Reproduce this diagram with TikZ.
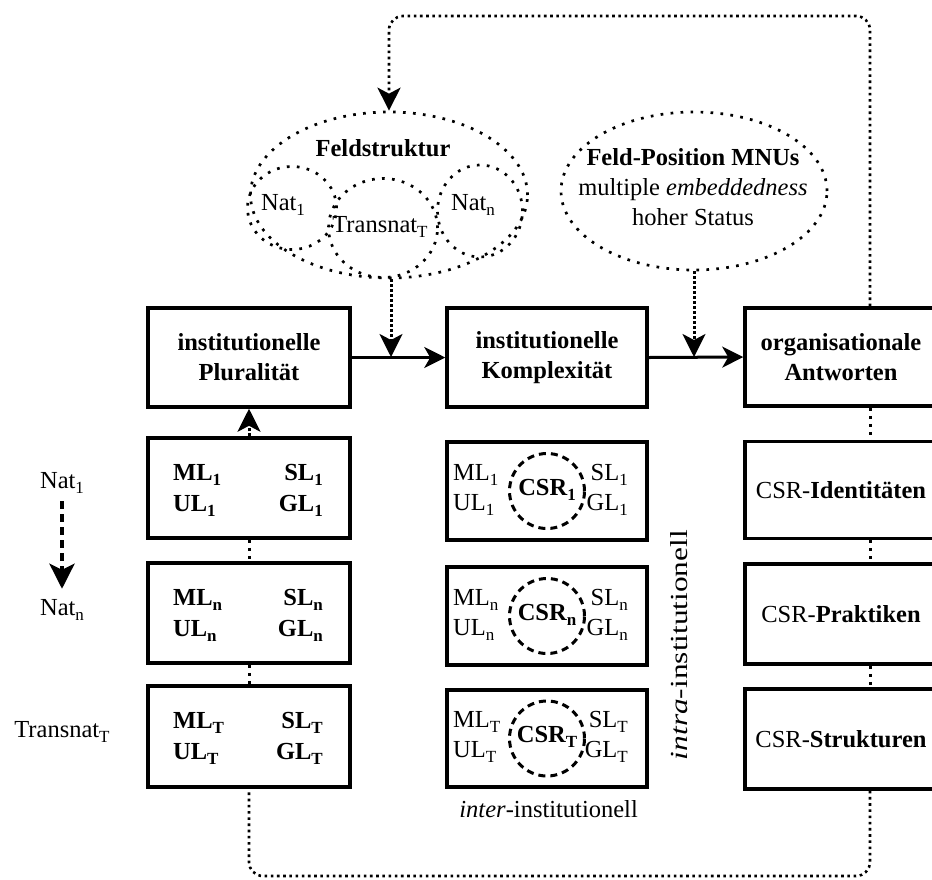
\documentclass[tikz,border=0pt]{standalone}
\usepackage{fontspec}
\setmainfont{Liberation Serif}
\usetikzlibrary{arrows.meta,shapes.geometric,calc}
\newcommand{\mysize}{\fontsize{24.5}{30}\selectfont}
\newcommand{\lsub}[1]{\raisebox{-5pt}{\fontsize{17}{17}\selectfont #1}}
\begin{document}
\begin{tikzpicture}[x=1pt,y=-1pt,
  every node/.style={inner sep=0pt,font=\mysize},
  box/.style={draw,line width=3.5pt,align=center,font=\mysize\bfseries},
  dotell/.style={draw,ellipse,line width=2.7pt,dash pattern=on 2.7pt off 7.3pt},
  csrc/.style={draw,circle,minimum size=75pt,line width=3pt,dash pattern=on 7pt off 5pt},
  mainarrow/.style={line width=3pt,-{Stealth[length=21pt,width=21pt,inset=6pt]}},
  dotarrow/.style={line width=3pt,dash pattern=on 3pt off 2pt,-{Stealth[length=23pt,width=23pt,inset=6pt]}},
  vdots/.style={line width=3pt,dash pattern=on 3pt off 5pt},
  loopline/.style={line width=2.6pt,dash pattern=on 2.6pt off 3.6pt,rounded corners=14pt},
  dasharrow/.style={line width=4pt,dash pattern=on 8pt off 5pt,-{Stealth[length=25pt,width=25pt,inset=6pt]}}
]
\useasboundingbox (0,0) rectangle (932,879);
\fill[white] (0,0) rectangle (932,879);
\clip (0,0) rectangle (932,879);

% ---- column 1
\node[box,minimum width=202pt,minimum height=99pt] (P) at (249,357.5) {institutionelle\\Pluralität};
\node[box,minimum width=202pt,minimum height=100pt] (b1) at (249,488) {};
\node[box,minimum width=202pt,minimum height=100pt] (b2) at (249,613) {};
\node[box,minimum width=202pt,minimum height=101pt] (b3) at (249,736.5) {};
\foreach \b/\s in {b1/1,b2/n,b3/T}{
  \node[anchor=base west,font=\mysize\bfseries] (\b-ml) at ($(\b.center)+(-76,-8)$) {ML\lsub{\s}};
  \node[anchor=base east,font=\mysize\bfseries] (\b-sl) at ($(\b.center)+(74,-8)$) {SL\lsub{\s}};
  \node[anchor=base west,font=\mysize\bfseries] (\b-ul) at ($(\b.center)+(-76,23)$) {UL\lsub{\s}};
  \node[anchor=base east,font=\mysize\bfseries] (\b-gl) at ($(\b.center)+(74,23)$) {GL\lsub{\s}};
}

% ---- column 2
\node[box,minimum width=200pt,minimum height=99pt] (K) at (547,357.5) {institutionelle\\Komplexität};
\node[box,minimum width=200pt,minimum height=98pt] (c1) at (547,491) {};
\node[box,minimum width=200pt,minimum height=98pt] (c2) at (547,616) {};
\node[box,minimum width=200pt,minimum height=97pt] (c3) at (547,738.5) {};
\foreach \b/\s in {c1/1,c2/n,c3/T}{
  \node[csrc] (\b-circ) at (\b.center) {};
  \node[anchor=base] (\b-csr) at ($(\b.center)+(0,4)$) {\textbf{CSR\lsub{\s}}};
  \node[anchor=base west] (\b-ml) at ($(\b.center)+(-94,-11)$) {ML\lsub{\s}};
  \node[anchor=base east] (\b-sl) at ($(\b.center)+(81,-11)$) {SL\lsub{\s}};
  \node[anchor=base west] (\b-ul) at ($(\b.center)+(-94,19)$) {UL\lsub{\s}};
  \node[anchor=base east] (\b-gl) at ($(\b.center)+(81,19)$) {GL\lsub{\s}};
}
\node[rotate=90] (intra) at (679,645) {\scalebox{1.28}[1]{\textit{intra}-institutionell}};
\node[anchor=base east] (inter) at (638,817) {\textit{inter}-institutionell};

% ---- column 3
\node[box,minimum width=192pt,minimum height=98pt] (O) at (841,357) {organisationale\\Antworten};
\node[box,minimum width=192pt,minimum height=97pt,font=\mysize] (d1) at (841,490) {CSR-\textbf{Identitäten}};
\node[box,minimum width=192pt,minimum height=100pt,font=\mysize] (d2) at (841,614) {CSR-\textbf{Praktiken}};
\node[box,minimum width=192pt,minimum height=100pt,font=\mysize] (d3) at (841,739) {CSR-\textbf{Strukturen}};

% ---- left labels
\node[anchor=base] (nat1) at (62,488) {Nat\lsub{1}};
\node[anchor=base] (natn) at (62,615) {Nat\lsub{n}};
\node[anchor=base] (trans) at (62,737) {Transnat\lsub{T}};
\draw[dasharrow] ($(nat1.south)+(0,8)$) -- ($(natn.north)+(0,-10)$);

% ---- ellipses
\node[dotell,minimum width=277pt,minimum height=166pt] (fs) at (389,195) {};
\node[dotell,minimum width=89pt,minimum height=83pt] (e1) at (292,208) {};
\node[dotell,minimum width=109pt,minimum height=99pt] (eT) at (383,228) {};
\node[dotell,minimum width=85pt,minimum height=92pt] (en) at (480,211) {};
\node[anchor=base,font=\mysize\bfseries] (fstxt) at (383,156) {Feldstruktur};
\node[anchor=base] (e1txt) at (283,210) {Nat\lsub{1}};
\node[anchor=base] (eTtxt) at (380,232) {Transnat\lsub{T}};
\node[anchor=base] (entxt) at (473,210) {Nat\lsub{n}};

\node[dotell,minimum width=266pt,minimum height=158pt] (fp) at (694,191) {};
\node[align=center] (fptxt) at (693,187) {\textbf{Feld-Position MNUs}\\multiple \textit{embeddedness}\\hoher Status};

% ---- coordinates
\coordinate (a1) at (391,357);
\coordinate (a2) at (694,357);
\coordinate (cx) at (870,0);
\coordinate (tl) at (389,16);
\coordinate (bl) at (249,876);

% ---- connectors
\draw[mainarrow] (P.east) -- (K.west);
\draw[mainarrow] (K.east) -- (O.west);
\draw[dotarrow] (fs.south -| a1) -- (a1);
\draw[dotarrow] (fp.south) -- (a2);
\draw[dotarrow] (b1.north) -- (P.south);
\draw[vdots] (b1.south) -- (b2.north);
\draw[vdots] (b2.south) -- (b3.north);
\draw[vdots] (O.south -| cx) -- (d1.north -| cx);
\draw[vdots] (d1.south -| cx) -- (d2.north -| cx);
\draw[vdots] (d2.south -| cx) -- (d3.north -| cx);
\draw[loopline,-{Stealth[length=23pt,width=23pt,inset=6pt]}] (O.north -| cx) -- (cx |- tl) -- (tl) -- (fs.north);
\draw[loopline] (d3.south -| cx) -- (cx |- bl) -- (bl) -- (b3.south);
\end{tikzpicture}
\end{document}
